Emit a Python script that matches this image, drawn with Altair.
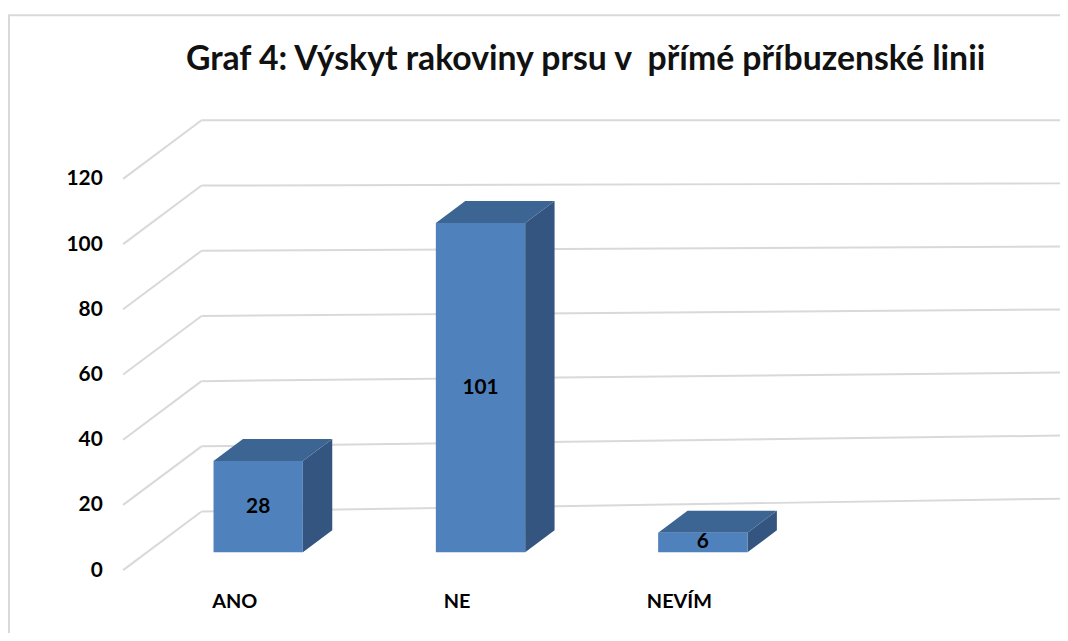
import altair as alt
import pandas as pd

# ---- data ----
categories = ["ANO", "NE", "NEVÍM"]
values = [28, 101, 6]
y_ticks = [0, 20, 40, 60, 80, 100, 120]
title_text = "Graf 4: Výskyt rakoviny prsu v \u00a0přímé příbuzenské linii"

# ---- 3D projection parameters (styling) ----
PX_PER_CAT = 224.0      # px per category unit on x
PX_PER_VAL = 3.285      # px per value unit on y
W, H = 944, 453
X_MAX = W / PX_PER_CAT
Y_MAX = H / PX_PER_VAL
BACK_DX = 79 / PX_PER_CAT     # back wall shift (x units)
BACK_DY = 59 / PX_PER_VAL     # back wall shift (y units)
F1, F2 = 0.305, 0.68          # bar front / back depth fraction
HALF_W = 45 / PX_PER_CAT
PERSP = 0.967                 # slight perspective compression at right

FRONT = "#4f81bd"
TOP = "#3c6594"
SIDE = "#33557f"
GRID = "#d9d9d9"
FONT = "Lato"

xs = alt.Scale(domain=[0, X_MAX], zero=False, nice=False)
ys = alt.Scale(domain=[0, Y_MAX], zero=False, nice=False)

# back wall gridlines
back = pd.DataFrame({
    "x": [BACK_DX] * len(y_ticks),
    "x2": [X_MAX] * len(y_ticks),
    "y": [v + BACK_DY for v in y_ticks],
    "y2": [Y_MAX - (Y_MAX - (v + BACK_DY)) * PERSP for v in y_ticks],
})
# side wall diagonals
diag = pd.DataFrame({
    "x": [0.0] * len(y_ticks),
    "x2": [BACK_DX] * len(y_ticks),
    "y": [float(v) for v in y_ticks],
    "y2": [v + BACK_DY for v in y_ticks],
})

front_rows, side_rows, top_rows, lab_rows = [], [], [], []
for i, (c, v) in enumerate(zip(categories, values)):
    cx = i + 0.5
    xs1, ys1 = F1 * BACK_DX, F1 * BACK_DY
    xs2, ys2 = F2 * BACK_DX, F2 * BACK_DY
    front_rows.append({"cat": c, "x": cx - HALF_W + xs1, "x2": cx + HALF_W + xs1,
                       "y": ys1, "y2": v + ys1})
    side_rows += [
        {"cat": c, "x": cx + HALF_W + xs1, "y": ys1, "y2": v + ys1},
        {"cat": c, "x": cx + HALF_W + xs2, "y": ys2, "y2": v + ys2},
    ]
    top_rows += [
        {"cat": c, "y": v + ys1, "x": cx - HALF_W + xs1, "x2": cx + HALF_W + xs1},
        {"cat": c, "y": v + ys2, "x": cx - HALF_W + xs2, "x2": cx + HALF_W + xs2},
    ]
    lab_rows.append({"cat": c, "x": cx + xs1, "y": v / 2 + ys1, "label": str(v)})

front_df = pd.DataFrame(front_rows)
side_df = pd.DataFrame(side_rows)
top_df = pd.DataFrame(top_rows)
lab_df = pd.DataFrame(lab_rows)

label_expr = "[" + ",".join("'%s'" % c for c in categories) + "][floor(datum.value)]"

axis_layer = alt.Chart(diag).mark_rule(color=GRID, strokeWidth=2).encode(
    x=alt.X("x:Q", scale=xs,
            axis=alt.Axis(values=[i + 0.5 for i in range(len(categories))],
                          labelExpr=label_expr, title=None, domain=False, ticks=False,
                          grid=False, labelFont=FONT, labelFontWeight="bold",
                          labelFontSize=20, labelColor="#000", labelPadding=22)),
    x2="x2:Q",
    y=alt.Y("y:Q", scale=ys,
            axis=alt.Axis(values=y_ticks, title=None, domain=False, ticks=False,
                          grid=False, labelFont=FONT, labelFontWeight="bold",
                          labelFontSize=21, labelColor="#000", labelPadding=21)),
    y2="y2:Q",
)

back_layer = alt.Chart(back).mark_rule(color=GRID, strokeWidth=2).encode(
    x=alt.X("x:Q", scale=xs), x2="x2:Q", y=alt.Y("y:Q", scale=ys), y2="y2:Q")

side_layer = alt.Chart(side_df).mark_area(color=SIDE, opacity=1).encode(
    x=alt.X("x:Q", scale=xs), y=alt.Y("y:Q", scale=ys), y2="y2:Q", detail="cat:N")

top_layer = alt.Chart(top_df).mark_area(color=TOP, opacity=1, orient="horizontal").encode(
    y=alt.Y("y:Q", scale=ys), x=alt.X("x:Q", scale=xs), x2="x2:Q", detail="cat:N")

front_layer = alt.Chart(front_df).mark_rect(color=FRONT).encode(
    x=alt.X("x:Q", scale=xs), x2="x2:Q", y=alt.Y("y:Q", scale=ys), y2="y2:Q")

text_layer = alt.Chart(lab_df).mark_text(font=FONT, fontWeight="bold", fontSize=21,
                                         color="#000").encode(
    x=alt.X("x:Q", scale=xs), y=alt.Y("y:Q", scale=ys), text="label:N")

border_top = alt.Chart(pd.DataFrame({"a": [0]})).mark_rule(color=GRID, strokeWidth=2).encode(
    x=alt.value(-116), x2=alt.value(W), y=alt.value(-106))
border_left = alt.Chart(pd.DataFrame({"a": [0]})).mark_rule(color=GRID, strokeWidth=2).encode(
    x=alt.value(-115), y=alt.value(-106), y2=alt.value(H + 70))

chart = alt.layer(
    border_top, border_left, back_layer, axis_layer,
    side_layer, top_layer, front_layer, text_layer,
).properties(
    width=W, height=H,
    title=alt.TitleParams(title_text, font=FONT, fontSize=34, fontWeight="bold",
                          color="#111", anchor="middle", offset=0, dy=90,
                          baseline="alphabetic", dx=-6),
    autosize=alt.AutoSizeParams(type="none"),
    padding={"left": 116, "top": 111, "right": 0, "bottom": 61},
    background="white",
).configure_view(stroke=None)

chart.save("out.html", embed_options={"renderer": "svg", "actions": False})
